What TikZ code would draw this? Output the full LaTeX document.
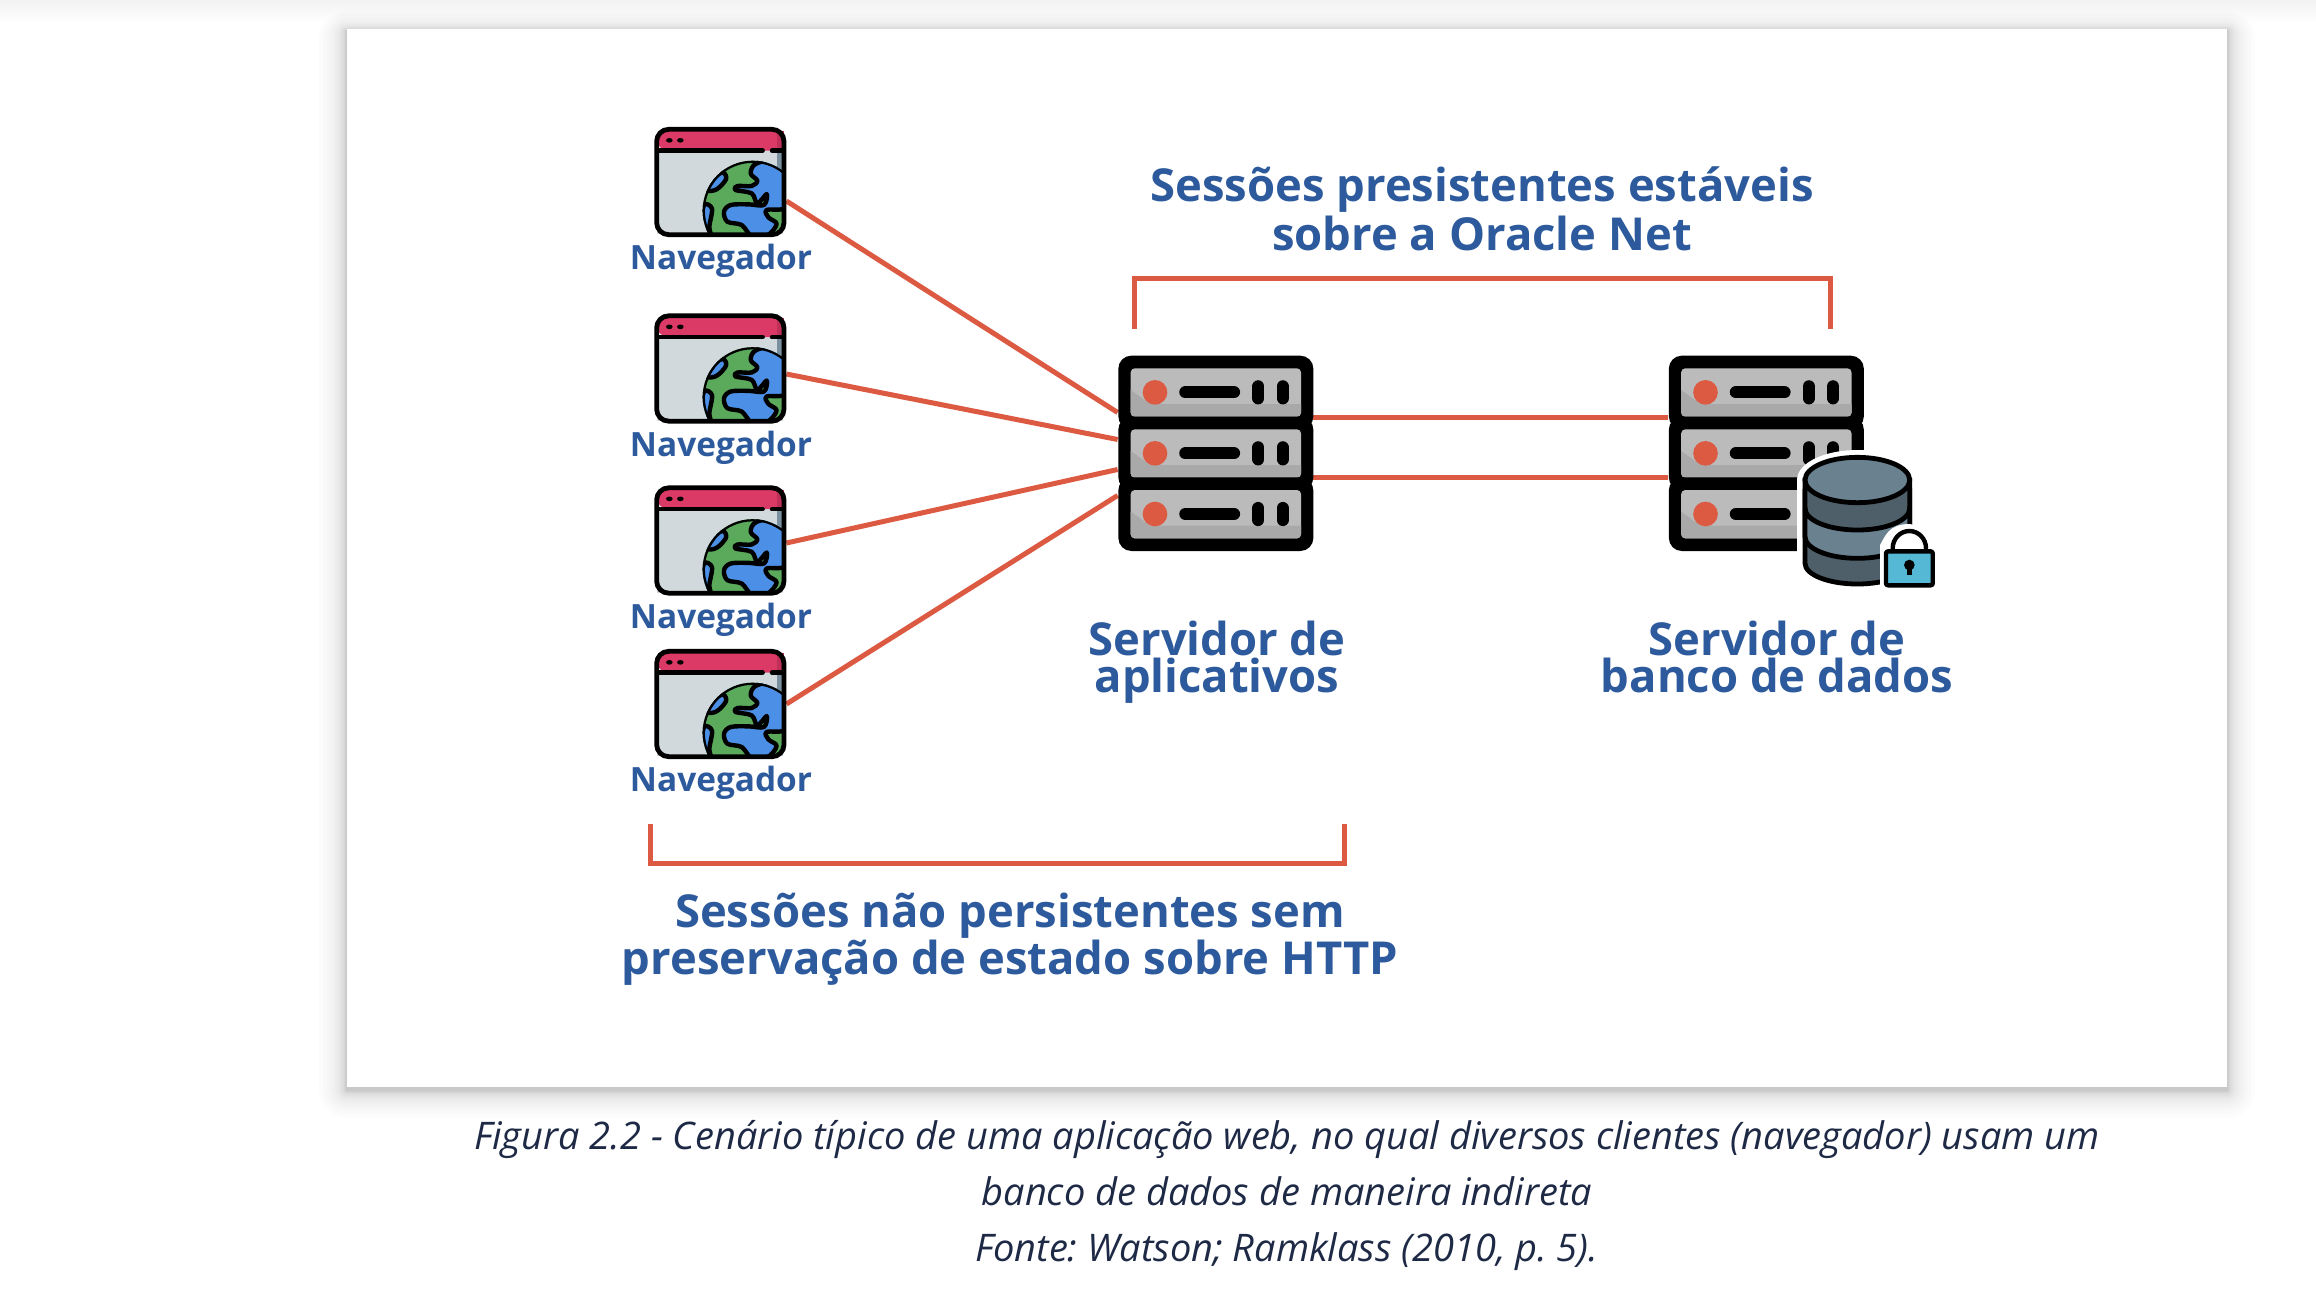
\documentclass[tikz,border=0pt]{standalone}
\usepackage{fontspec}
\setmainfont{Open Sans}
\usetikzlibrary{calc}
\frenchspacing
\definecolor{lblue}{HTML}{2C5A9C}
\definecolor{lred}{HTML}{DD5A42}
\definecolor{capt}{HTML}{1E2A45}
\definecolor{srvA}{HTML}{BBBBBB}
\definecolor{srvB}{HTML}{A9A9A9}
\definecolor{winbar}{HTML}{DB3A66}
\definecolor{winbarD}{HTML}{BF3058}
\definecolor{winbody}{HTML}{D1D9DC}
\definecolor{winside}{HTML}{7B909E}
\definecolor{gland}{HTML}{5BAA5C}
\definecolor{gsea}{HTML}{4C8FE6}
\definecolor{dbA}{HTML}{6A8190}
\definecolor{dbB}{HTML}{4E5F69}
\definecolor{lockc}{HTML}{55B8D5}
\tikzset{
  link/.style={draw=lred,line width=2.5pt},
  bigtxt/.style={text=lblue,font=\fontsize{22.7}{26}\selectfont\bfseries,anchor=base,inner sep=0pt},
  smalltxt/.style={text=lblue,font=\fontsize{16.7}{19}\selectfont\bfseries,anchor=base,inner sep=0pt},
  captxt/.style={text=capt,font=\fontsize{19}{23}\selectfont\itshape,anchor=base,inner sep=0pt},
  inkline/.style={draw=black,line width=2.2pt,line join=round,line cap=round},
  browser/.pic={
    \begin{scope}[x=0.16667pt,y=-0.16667pt,shift={(-301.5,-216)}]
      \path[fill=winbody] (112,120) rectangle (490,372);
      \path[fill=winside] (470,120) rectangle (492,190);
      \path[fill=winbar,rounded corners=6pt] (110,58) -- (492,58) -- (492,122) -- (110,122) -- cycle;
      \path[fill=winbarD] (472,64) rectangle (492,122);
      \begin{scope}
        \clip[rounded corners=6pt] (110,58) rectangle (492,374);
        \path[fill=gland] (398,302) circle (150);
        \clip (398,302) circle (150);
        \path[fill=gsea,draw=black,line width=2.2pt,line join=round]
          plot[smooth cycle,tension=.55] coordinates {(410,160) (392,190) (412,212) (395,228) (352,228) (346,240) (395,250) (412,280) (440,252) (432,285) (385,283) (332,285) (312,305) (322,335) (365,345) (395,378) (442,376) (470,342) (445,322) (440,300) (500,292) (520,220) (490,150)};
        \path[fill=gsea,draw=black,line width=2.2pt,line join=round]
          plot[smooth cycle,tension=.55] coordinates {(310,188) (318,208) (290,238) (262,240) (285,200)};
        \path[fill=gsea,draw=black,line width=2.2pt,line join=round]
          plot[smooth cycle,tension=.55] coordinates {(252,285) (276,296) (268,350) (272,375) (245,350)};
        \draw[inkline] (398,302) circle (150);
      \end{scope}
      \draw[inkline] (112,122) -- (428,122);
      \draw[inkline] (456,122) -- (490,122);
      \path[fill=black] (148,91) ellipse (10 and 7) (181,91) ellipse (10 and 7);
      \draw[draw=black,line width=2.4pt,rounded corners=6pt] (110,58) rectangle (492,374);
    \end{scope}
  },
  serverunit/.pic={
    \path[fill=black,rounded corners=6.5pt] (55,47) rectangle (640,268);
    \path[fill=srvA,rounded corners=2pt] (92,85) rectangle (603,230);
    \begin{scope}
      \clip[rounded corners=2pt] (92,85) rectangle (603,230);
      \path[fill=srvB] (92,150) -- (150,192) -- (603,192) -- (603,230) -- (92,230) -- cycle;
    \end{scope}
    \path[fill=lred] (165,157) circle (37);
    \draw[line width=6.1pt,line cap=round] (256,157) -- (402,157);
    \draw[line width=6.1pt,line cap=round] (475,139) -- (475,175);
    \draw[line width=6.1pt,line cap=round] (548,139) -- (548,175);
  },
  dbicon/.pic={
    \begin{scope}[x=0.16667pt,y=-0.16667pt]
      % halo
      \path[fill=white,draw=white,line width=2pt,line join=round]
        (447,420) arc[start angle=180,end angle=360,x radius=175,y radius=84] -- (797,560) -- (700,620) -- (690,750) -- (622,750) .. controls (520,750) and (447,720) .. (447,670) -- cycle;
      % cylinder
      \path[fill=dbB,draw=black,line width=2.4pt] (465,420) -- (465,670) arc[start angle=180,end angle=0,x radius=157,y radius=62] -- (779,420) -- cycle;
      \path[fill=dbA,draw=black,line width=2.4pt] (465,505) arc[start angle=180,end angle=0,x radius=157,y radius=65] -- (779,590) arc[start angle=0,end angle=180,x radius=157,y radius=65] -- cycle;
      \path[fill=dbA,draw=black,line width=2.4pt] (622,420) ellipse (157 and 68);
      % lock
      \path[fill=white,line join=round] (690,748) -- (690,615) .. controls (705,590) and (715,552) .. (778,552) .. controls (800,552) and (845,590) .. (862,625) -- (862,748) -- cycle;
      \draw[line width=2.2pt] (728,640) -- (728,625) arc[start angle=180,end angle=360,x radius=50,y radius=52] -- (828,640);
      \path[fill=lockc,draw=black,line width=2.2pt,line join=round,rounded corners=1pt] (708,634) rectangle (848,736);
      \path[fill=black] (778,675) circle (16);
      \path[fill=black] (770,680) rectangle (786,706);
    \end{scope}
  }
}
\begin{document}
\begin{tikzpicture}[x=0.5pt,y=-0.5pt]
\useasboundingbox (0,0) rectangle (2316,1290);
\path[fill=white] (0,0) rectangle (2316,1290);
\shade[top color=black!5,bottom color=white] (0,0) rectangle (2316,22);
% shadow of the card
\foreach \r in {1,1,2,2,3,3,4,5,6,7,8,10,12,14,17,20,24,28}{
  \path[fill=black,fill opacity=0.012,rounded corners=\r*0.5pt] (347-\r,29-\r*0.7+2) rectangle (2227+\r,1087+\r+3);
}
\path[fill=white] (347,29) rectangle (2227,1087);
% named anchors
\node[minimum width=65.5pt,minimum height=55pt,inner sep=0pt] (b1) at (720.5,182) {};
\node[minimum width=65.5pt,minimum height=55pt,inner sep=0pt] (b2) at (720.5,368.5) {};
\node[minimum width=65.5pt,minimum height=55pt,inner sep=0pt] (b3) at (720.5,540.5) {};
\node[minimum width=65.5pt,minimum height=55pt,inner sep=0pt] (b4) at (720.5,704) {};
\node[minimum width=97.5pt,minimum height=97.5pt,inner sep=0pt] (app) at (1215.5,453.5) {};
\node[minimum width=97.5pt,minimum height=97.5pt,inner sep=0pt] (dbs) at (1766,453.5) {};
% connectors
\draw[link] ([shift={(0,19)}]b1.east) -- ([shift={(0,-41)}]app.west);
\draw[link] ([shift={(0,5.5)}]b2.east) -- ([shift={(0,-14)}]app.west);
\draw[link] ([shift={(0,2.5)}]b3.east) -- ([shift={(0,16)}]app.west);
\draw[link] ([shift={(0,0)}]b4.east) -- ([shift={(0,42)}]app.west);
\draw[link] ([shift={(0,-36.5)}]app.east) -- ([shift={(0,-36.5)}]dbs.west);
\draw[link] ([shift={(0,23.5)}]app.east) -- ([shift={(0,23.5)}]dbs.west);
% brackets
\coordinate (ta) at (1134,329); \coordinate (tb) at (1830,329); \coordinate (tc) at (1134,278);
\draw[link] (ta) -- (tc) -- (tc -| tb) -- (tb);
\coordinate (ua) at (650,824); \coordinate (ub) at (1344,824); \coordinate (uc) at (650,863);
\draw[link] (ua) -- (uc) -- (uc -| ub) -- (ub);
% icons
\pic at (b1) {browser};
\pic at (b2) {browser};
\pic at (b3) {browser};
\pic at (b4) {browser};
\begin{scope}[shift={(1100,340)},x=0.16667pt,y=-0.16667pt]
  \pic at (0,0) {serverunit};
  \pic at (0,183) {serverunit};
  \pic at (0,365) {serverunit};
\end{scope}
\begin{scope}[shift={(1650.5,340)},x=0.16667pt,y=-0.16667pt]
  \pic at (0,0) {serverunit};
  \pic at (0,183) {serverunit};
  \pic at (0,365) {serverunit};
\end{scope}
\pic at (1650,340) {dbicon};
% labels
\node[smalltxt] (n1) at (721,269) {Navegador};
\node[smalltxt] (n2) at (721,456) {Navegador};
\node[smalltxt] (n3) at (721,628) {Navegador};
\node[smalltxt] (n4) at (721,791) {Navegador};
\node[bigtxt] (t1) at (1482,201) {Sessões presistentes estáveis};
\node[bigtxt] (t2) at (1482,250) {sobre a Oracle Net};
\node[bigtxt] (t3) at (1217,655.5) {Servidor de};
\node[bigtxt] (t4) at (1217,692.5) {aplicativos};
\node[bigtxt] (t5) at (1777,655.5) {Servidor de};
\node[bigtxt] (t6) at (1777,692.5) {banco de dados};
\node[bigtxt] (t7) at (1010,927) {Sessões não persistentes sem};
\node[bigtxt] (t8) at (1010,974.5) {preservação de estado sobre HTTP};
\node[captxt] (c1) at (1287,1149) {Figura 2.2 - Cenário típico de uma aplicação web, no qual diversos clientes (navegador) usam um};
\node[captxt] (c2) at (1287,1205.5) {banco de dados de maneira indireta};
\node[captxt] (c3) at (1286.5,1261) {Fonte: Watson; Ramklass (2010, p. 5).};
\end{tikzpicture}
\end{document}
